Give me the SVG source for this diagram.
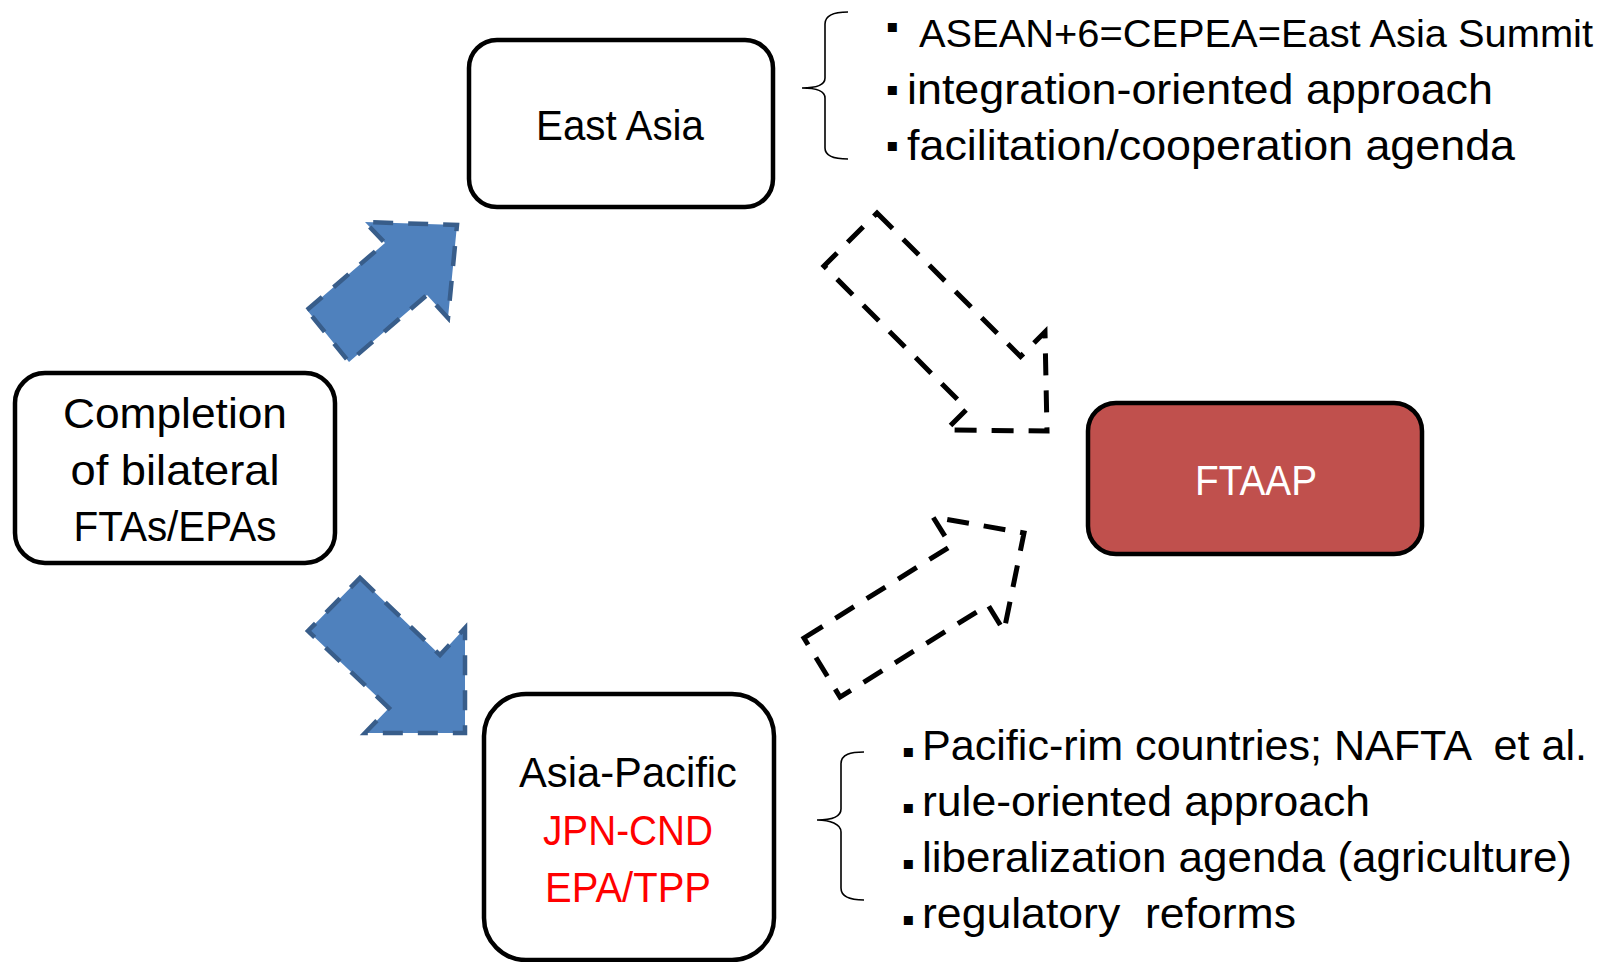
<svg xmlns="http://www.w3.org/2000/svg" width="1616" height="962" viewBox="0 0 1616 962">
<style>
.box{fill:#fff;stroke:#000;stroke-width:4.5}
.ftaap{fill:#C0504D;stroke:#000;stroke-width:4.5}
.t{font-family:"Liberation Sans",Arial,sans-serif;font-size:42px;fill:#000}
.c{text-anchor:middle}
.red{fill:#FF0000}
.white{fill:#FFFFFF}
.blue{fill:#4F81BD;stroke:#385D8A;stroke-width:4.5;stroke-dasharray:20 15}
.hollow{fill:none;stroke:#000;stroke-width:5;stroke-dasharray:22 15}
.brace{fill:none;stroke:#000;stroke-width:1.6}
.bul{font-family:"DejaVu Sans",sans-serif;font-size:18px;text-anchor:middle;fill:#000}
</style>
<rect width="1616" height="962" fill="#fff"/>

<g id="connectors">
  <polygon id="arrow-to-east-asia" class="blue" points="307,310 385,243 365,222 457,225 448,318 427,295 349,362"/>
  <polygon id="arrow-to-asia-pacific" class="blue" points="360,578 440,655 465,628 465,733 365,733 389,708 308,631"/>
  <polygon id="arrow-east-asia-to-ftaap" class="hollow" points="877,213 1020.5,356.5 1045,332 1047,431 946,430 967,409 824,266"/>
  <polygon id="arrow-asia-pacific-to-ftaap" class="hollow" points="804,638 951,546 933,517 1024,533 1004,631 988,605 840,697"/>
</g>

<g id="node-completion">
  <rect class="box" x="15" y="373" width="320" height="190" rx="30"/>
  <text class="t c" x="175" y="428" textLength="224" lengthAdjust="spacingAndGlyphs">Completion</text>
  <text class="t c" x="175" y="485" textLength="209" lengthAdjust="spacingAndGlyphs">of bilateral</text>
  <text class="t c" x="175" y="541" textLength="203" lengthAdjust="spacingAndGlyphs">FTAs/EPAs</text>
</g>

<g id="node-east-asia">
  <rect class="box" x="469" y="40" width="304" height="167" rx="28"/>
  <text class="t c" x="620" y="140" textLength="168" lengthAdjust="spacingAndGlyphs">East Asia</text>
</g>

<g id="node-asia-pacific">
  <rect class="box" x="484" y="694" width="290" height="266" rx="42"/>
  <text class="t c" x="628" y="787" textLength="218" lengthAdjust="spacingAndGlyphs">Asia-Pacific</text>
  <text class="t c red" x="628" y="845" textLength="170" lengthAdjust="spacingAndGlyphs">JPN-CND</text>
  <text class="t c red" x="628" y="902" textLength="166" lengthAdjust="spacingAndGlyphs">EPA/TPP</text>
</g>

<g id="node-ftaap">
  <rect class="ftaap" x="1088" y="403" width="334" height="151" rx="28"/>
  <text class="t c white" x="1256" y="495" textLength="122" lengthAdjust="spacingAndGlyphs">FTAAP</text>
</g>

<g id="notes-east-asia">
  <path class="brace" d="M848,12 C836,12 825,14 825,24 L825,78 C825,85 815,88 802,88 C815,88 825,91 825,98 L825,148 C825,157 836,159 848,159"/>
  <text class="bul" x="892" y="32">▪</text>
  <text class="t" x="919" y="47" style="font-size:39px" textLength="674" lengthAdjust="spacingAndGlyphs">ASEAN+6=CEPEA=East Asia Summit</text>
  <text class="bul" x="892" y="95">▪</text>
  <text class="t" x="907" y="104" textLength="586" lengthAdjust="spacingAndGlyphs">integration-oriented approach</text>
  <text class="bul" x="892" y="151">▪</text>
  <text class="t" x="907" y="160" textLength="608" lengthAdjust="spacingAndGlyphs">facilitation/cooperation agenda</text>
</g>

<g id="notes-asia-pacific">
  <path class="brace" d="M864,752 C851,752 841,754 841,764 L841,809 C841,817 830,820 817,820 C830,820 841,824 841,832 L841,888 C841,897 851,900 864,900"/>
  <text class="bul" x="908" y="757">▪</text>
  <text class="t" x="922" y="760" xml:space="preserve" textLength="665" lengthAdjust="spacingAndGlyphs">Pacific-rim countries; NAFTA  et al.</text>
  <text class="bul" x="908" y="813">▪</text>
  <text class="t" x="922" y="816" textLength="448" lengthAdjust="spacingAndGlyphs">rule-oriented approach</text>
  <text class="bul" x="908" y="869">▪</text>
  <text class="t" x="922" y="872" textLength="650" lengthAdjust="spacingAndGlyphs">liberalization agenda (agriculture)</text>
  <text class="bul" x="908" y="925">▪</text>
  <text class="t" x="922" y="928" xml:space="preserve" textLength="374" lengthAdjust="spacingAndGlyphs">regulatory  reforms</text>
</g>
</svg>
